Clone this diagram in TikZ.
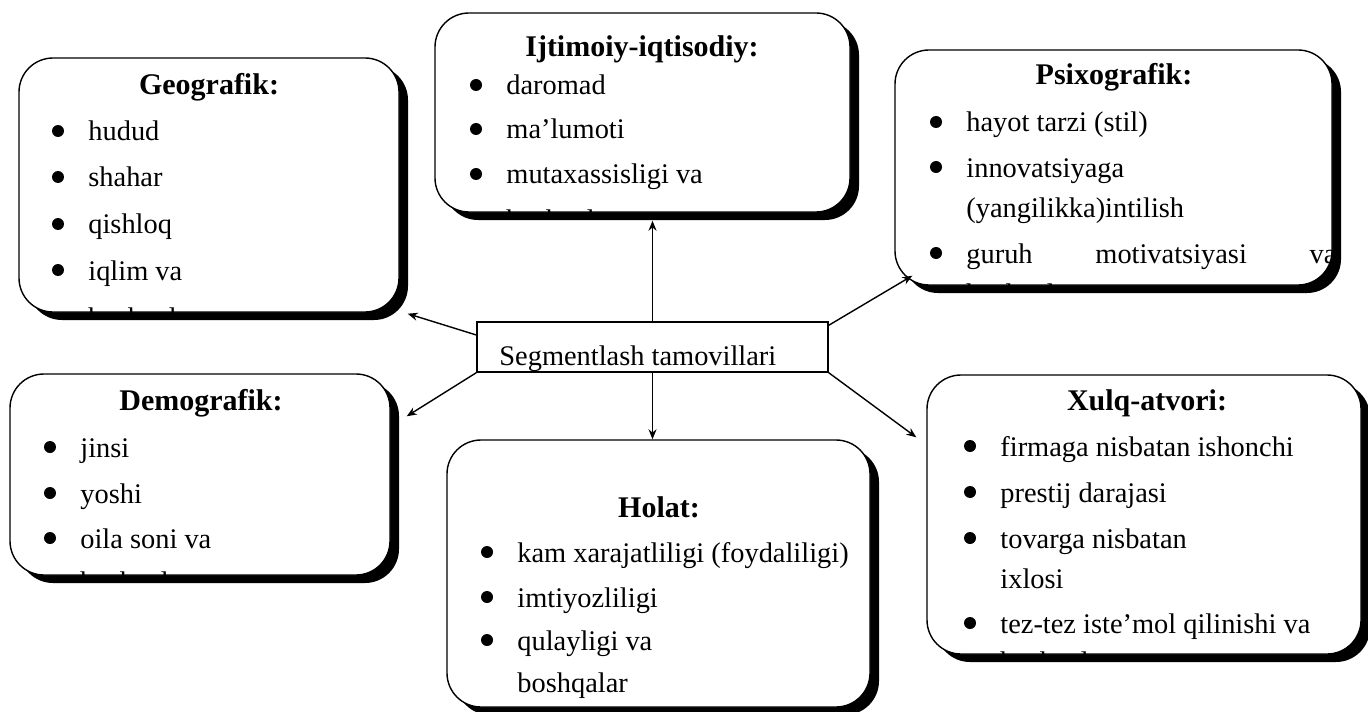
\documentclass[tikz,border=0pt]{standalone}
\usepackage{fontspec}
\setmainfont{Liberation Serif}
\usetikzlibrary{arrows.meta,shadows,calc}

\tikzset{
  panel/.style={draw, fill=white, line width=0.7pt, rounded corners=17pt,
    drop shadow={shadow xshift=4.5pt, shadow yshift=-4pt, fill=black, opacity=1}},
  head/.style={anchor=base, inner sep=0pt, font=\fontsize{15}{18}\selectfont\bfseries},
  entry/.style={anchor=base west, inner sep=0pt, font=\fontsize{14.2}{17}\selectfont},
  dot/.style={circle, fill, inner sep=0pt, minimum size=6pt},
  conn/.style={line width=0.7pt, -{Stealth[length=5pt, width=4pt]}}
}

\begin{document}
\begin{tikzpicture}[x=0.5pt, y=-0.5pt]
\useasboundingbox (0,0) rectangle (1368,711);

% the six panels and the centre box
\node[panel, minimum width=190pt, minimum height=127pt] (geo) at (209,185) {};
\node[panel, minimum width=207.5pt, minimum height=99.5pt] (ijt) at (642.5,112.5) {};
\node[panel, minimum width=218.5pt, minimum height=117.5pt] (psi) at (1113.5,167.5) {};
\node[panel, minimum width=190pt, minimum height=100.5pt] (dem) at (200,474.5) {};
\node[panel, minimum width=211.5pt, minimum height=133.5pt] (hol) at (658.5,573.5) {};
\node[panel, minimum width=217pt, minimum height=139.5pt] (xul) at (1144,514.5) {};
\node[draw, line width=0.7pt, minimum width=175.5pt, minimum height=25pt, inner sep=0pt] (seg) at (652.5,347) {};

% texts, cut off at the panel edges
\begin{scope}
\clip[rounded corners=17pt] (geo.south west) rectangle (geo.north east);
\node[head] (geo-h) at (209,95) {Geografik:};
\foreach \y/\txt [count=\i] in {141/hudud, 187/shahar, 234/qishloq, 280/iqlim va, 327/boshqalar}
  \node[entry] (geo-\i) at (88,\y) {\txt};
\foreach \y [count=\i] in {141,187,234,280}
  \node[dot] (geo-d\i) at (58,\y-10) {};
\end{scope}

\begin{scope}
\clip[rounded corners=17pt] (ijt.south west) rectangle (ijt.north east);
\node[head] (ijt-h) at (642,57) {Ijtimoiy-iqtisodiy:};
\foreach \y/\txt [count=\i] in {95/daromad, 139/ma’lumoti, 184/mutaxassisligi va, 229/boshqalar}
  \node[entry] (ijt-\i) at (506,\y) {\txt};
\foreach \y [count=\i] in {95,139,184}
  \node[dot] (ijt-d\i) at (476,\y-10) {};
\end{scope}

\begin{scope}
\clip[rounded corners=17pt] (psi.south west) rectangle (psi.north east);
\node[head] (psi-h) at (1114,85) {Psixografik:};
\foreach \y/\txt [count=\i] in {132/hayot tarzi (stil), 177/innovatsiyaga, 218/(yangilikka)intilish, 303/boshqalar}
  \node[entry] (psi-\i) at (966,\y) {\txt};
\node[entry] (psi-5) at (966,263) {\makebox[185pt][l]{guruh\hfill motivatsiyasi\hfill va}};
\foreach \y [count=\i] in {132,177,263}
  \node[dot] (psi-d\i) at (936,\y-10) {};
\end{scope}

\begin{scope}
\clip[rounded corners=17pt] (dem.south west) rectangle (dem.north east);
\node[head] (dem-h) at (201,410) {Demografik:};
\foreach \y/\txt [count=\i] in {457/jinsi, 503/yoshi, 548/oila soni va, 591/boshqalar}
  \node[entry] (dem-\i) at (80,\y) {\txt};
\foreach \y [count=\i] in {457,503,548}
  \node[dot] (dem-d\i) at (50,\y-10) {};
\end{scope}

\begin{scope}
\clip[rounded corners=17pt] (hol.south west) rectangle (hol.north east);
\node[head] (hol-h) at (659,517) {Holat:};
\foreach \y/\txt [count=\i] in {562/kam xarajatliligi (foydaliligi), 607/imtiyozliligi, 650/qulayligi va, 692/boshqalar}
  \node[entry] (hol-\i) at (517,\y) {\txt};
\foreach \y [count=\i] in {562,607,650}
  \node[dot] (hol-d\i) at (487,\y-10) {};
\end{scope}

\begin{scope}
\clip[rounded corners=17pt] (xul.south west) rectangle (xul.north east);
\node[head] (xul-h) at (1147,410) {Xulq-atvori:};
\foreach \y/\txt [count=\i] in {456/firmaga nisbatan ishonchi, 502/prestij darajasi, 548/tovarga nisbatan, 588/ixlosi, 633/tez-tez iste’mol qilinishi va, 671/boshqalar}
  \node[entry] (xul-\i) at (1000,\y) {\txt};
\foreach \y [count=\i] in {456,502,548,633}
  \node[dot] (xul-d\i) at (970,\y-10) {};
\end{scope}

\begin{scope}
\clip (seg.south west) rectangle (seg.north east);
\node[entry] (seg-t) at (499,365) {Segmentlash tamovillari};
\end{scope}

% connectors
\draw[conn] (seg.north) -- ($(seg.north |- ijt.south)+(0,8)$);
\draw[conn] (seg.south) -- (seg.south |- hol.north);
\draw[conn] ([yshift=6pt]seg.west) -- ($(geo.south east)+(8,1)$);
\draw[conn] (seg.south west) -- ($(dem.north east)+(16,43)$);
\draw[conn] ([yshift=-2pt]seg.north east) -- ($(psi.south west)+(18,-10)$);
\draw[conn] (seg.south east) -- ($(xul.north west)+(-10,63)$);
\end{tikzpicture}
\end{document}
